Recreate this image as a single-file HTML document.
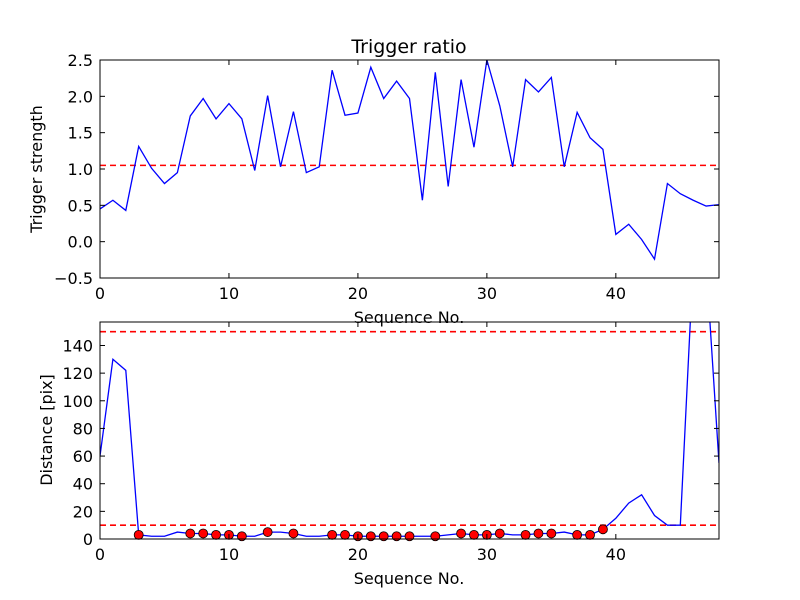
<!DOCTYPE html>
<html><head><meta charset="utf-8"><style>
body{margin:0;background:#fff}
svg{display:block;font-family:"DejaVu Sans","Liberation Sans",sans-serif}
</style></head><body>
<svg id="fig" width="800" height="600">
<rect width="800" height="600" fill="#fff"/>
</svg>
<script>
const seqX = Array.from({length:49},(_,i)=>i);
const triggerStrength = [0.45,0.57,0.43,1.31,1.01,0.80,0.95,1.73,1.97,1.69,1.90,1.69,0.98,2.01,1.03,1.79,0.95,1.03,2.36,1.74,1.77,2.40,1.97,2.21,1.97,0.57,2.33,0.76,2.23,1.30,2.50,1.87,1.03,2.23,2.06,2.26,1.03,1.78,1.43,1.27,0.10,0.24,0.03,-0.24,0.80,0.66,0.57,0.49,0.51];
const triggerThreshold = 1.05;
const topYTicks = [-0.5,0.0,0.5,1.0,1.5,2.0,2.5];
const xTicks = [0,10,20,30,40];
const distance = [60,130,122,3,2,2,5,4,4,3,3,2,2,5,5,4,2,2,3,3,2,2,2,2,2,2,2,3,4,3,3,4,3,3,4,4,5,3,3,7,15,26,32,17,10,10,200,200,55];
const markerIdx = [3,7,8,9,10,11,13,15,18,19,20,21,22,23,24,26,28,29,30,31,33,34,35,37,38,39];
const distThresholds = [10,150];
const botYTicks = [0,20,40,60,80,100,120,140];

const NS="http://www.w3.org/2000/svg";
const svg=document.getElementById('fig');
function mk(tag,attrs,parent){const e=document.createElementNS(NS,tag);for(const k in attrs)e.setAttribute(k,attrs[k]);(parent||svg).appendChild(e);return e;}

function axes(box,xmin,xmax,ymin,ymax,name){
  const g=mk('g',{});
  
  
  const clip=mk('clipPath',{id:name+'-clip'},g);
  mk('rect',{x:box.x0,y:box.y0,width:box.x1-box.x0,height:box.y1-box.y0},clip);
  const sx=v=>box.x0+(v-xmin)/(xmax-xmin)*(box.x1-box.x0);
  const sy=v=>box.y1-(v-ymin)/(ymax-ymin)*(box.y1-box.y0);
  return {g,sx,sy,clipId:name+'-clip'};
}
function frame(ax,box,yt,fmt,xt){
  const g=ax.g;
  xt.forEach(t=>{const x=ax.sx(t);
    mk('line',{x1:x,x2:x,y1:box.y1,y2:box.y1-5,stroke:'#000'},g);
    mk('line',{x1:x,x2:x,y1:box.y0,y2:box.y0+5,stroke:'#000'},g);
    const tx=mk('text',{x:x,y:box.y1+21,'text-anchor':'middle','font-size':16},g);tx.textContent=t;
    
    
  });
  yt.forEach(t=>{const y=ax.sy(t);
    mk('line',{x1:box.x0,x2:box.x0+5,y1:y,y2:y,stroke:'#000'},g);
    mk('line',{x1:box.x1,x2:box.x1-5,y1:y,y2:y,stroke:'#000'},g);
    const tx=mk('text',{x:box.x0-7,y:y+6,'text-anchor':'end','font-size':16},g);tx.textContent=fmt(t);
    
    
  });
  mk('rect',{x:box.x0,y:box.y0,width:box.x1-box.x0,height:box.y1-box.y0,fill:'none',stroke:'#000','stroke-width':1},g);
}
function label(txt,x,y,size,rot,name){
  const t=mk('text',{x:x,y:y,'text-anchor':'middle','font-size':size});
  if(rot)t.setAttribute('transform',`rotate(-90 ${x} ${y})`);
  t.textContent=txt;
  
  
}

// top
const b1={x0:100,x1:719,y0:60,y1:278};
const a1=axes(b1,0,48,-0.5,2.5,'trigger-axes');
const cg1=mk('g',{'clip-path':`url(#${a1.clipId})`},a1.g);
let l=mk('line',{x1:b1.x0,x2:b1.x1,y1:a1.sy(triggerThreshold),y2:a1.sy(triggerThreshold),stroke:'#ff0000','stroke-width':1.6,'stroke-dasharray':'6,4'},cg1);


let p=mk('polyline',{points:triggerStrength.map((v,i)=>a1.sx(seqX[i])+','+a1.sy(v)).join(' '),fill:'none',stroke:'#0000ff','stroke-width':1.3},cg1);


frame(a1,b1,topYTicks,t=>t.toFixed(1).replace('-','−'),xTicks);
label('Trigger ratio',409,53,19,false,'chart-title');
label('Trigger strength',42,169,16,true,'top-y-axis-title');
label('Sequence No.',409,323,16,false,'top-x-axis-title');

// bottom
const b2={x0:100,x1:719,y0:322,y1:539};
const a2=axes(b2,0,48,0,157,'distance-axes');
const cg2=mk('g',{'clip-path':`url(#${a2.clipId})`},a2.g);
distThresholds.forEach(v=>{
  const d=mk('line',{x1:b2.x0,x2:b2.x1,y1:a2.sy(v),y2:a2.sy(v),stroke:'#ff0000','stroke-width':1.6,'stroke-dasharray':'6,4'},cg2);
  
  
});
p=mk('polyline',{points:distance.map((v,i)=>a2.sx(seqX[i])+','+a2.sy(v)).join(' '),fill:'none',stroke:'#0000ff','stroke-width':1.3},cg2);


markerIdx.forEach(i=>{
  const c=mk('circle',{cx:a2.sx(seqX[i]),cy:a2.sy(distance[i]),r:4.5,fill:'#ff0000',stroke:'#000','stroke-width':0.8},a2.g);
  
  
});
frame(a2,b2,botYTicks,t=>String(t),xTicks);
label('Distance [pix]',52,430,16,true,'bottom-y-axis-title');
label('Sequence No.',409,584,16,false,'bottom-x-axis-title');
</script>
</body></html>
